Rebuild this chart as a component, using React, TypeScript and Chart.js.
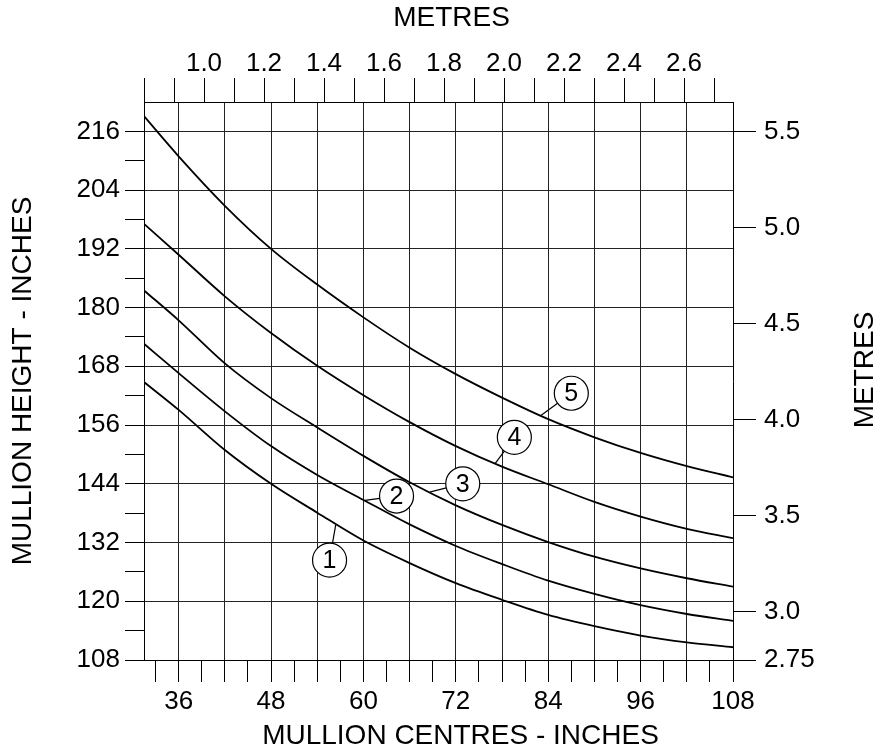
import React, { useEffect, useRef } from "react";
import { Chart, registerables } from "chart.js";

Chart.register(...registerables);

// ---- Data ----
const xInches = [31.5, 36, 42, 48, 54, 60, 66, 72, 78, 84, 90, 96, 102, 108];
const curve1 = [164.8, 159.1, 150.9, 144.0, 138.1, 132.4, 127.8, 123.7, 120.3, 117.2, 114.9, 113.0, 111.6, 110.6];
const curve2 = [172.6, 166.6, 158.8, 151.7, 145.8, 140.7, 135.7, 131.3, 127.6, 124.2, 121.5, 119.2, 117.4, 116.0];
const curve3 = [183.5, 177.4, 168.6, 161.5, 155.5, 149.7, 144.3, 139.6, 135.6, 132.1, 129.1, 126.7, 124.7, 123.0];
const curve4 = [197.1, 190.8, 182.3, 174.8, 168.1, 162.1, 156.6, 151.7, 147.5, 143.9, 140.3, 137.3, 134.8, 132.9];
const curve5 = [219.1, 210.9, 200.8, 192.0, 184.7, 178.0, 171.8, 166.4, 161.6, 157.2, 153.5, 150.3, 147.6, 145.3];

const curveNames = ["1", "2", "3", "4", "5"];
// circle label centres and leader end points (data units: inches)
const labelX = [55.6, 64.3, 72.9, 79.6, 87.0];
const labelY = [128.4, 141.5, 144.0, 153.5, 162.5];
const leaderX = [56.4, 60.2, 68.6, 77.1, 83.0];
const leaderY = [135.6, 140.6, 142.3, 148.1, 157.9];

// axes
const xMin = 31.5, xMax = 108;
const yMin = 108, yMax = 222;
const topMin = 0.8, topMax = 2.7633;
const rightMin = 2.75, rightMax = 5.653;

const bottomTicks = [33, 36, 39, 42, 45, 48, 51, 54, 57, 60, 63, 66, 69, 72, 75, 78, 81, 84, 87, 90, 93, 96, 99, 102, 105, 108];
const bottomLabels = [36, 48, 60, 72, 84, 96, 108];
const bottomGrid = [36, 42, 48, 54, 60, 66, 72, 78, 84, 90, 96, 102];
const leftTicks = [108, 114, 120, 126, 132, 138, 144, 150, 156, 162, 168, 174, 180, 186, 192, 198, 204, 210, 216];
const leftLabels = [108, 120, 132, 144, 156, 168, 180, 192, 204, 216];
const topTicks = [0.8, 0.9, 1.0, 1.1, 1.2, 1.3, 1.4, 1.5, 1.6, 1.7, 1.8, 1.9, 2.0, 2.1, 2.2, 2.3, 2.4, 2.5, 2.6, 2.7];
const topLabels = [1.0, 1.2, 1.4, 1.6, 1.8, 2.0, 2.2, 2.4, 2.6];
const rightTicks = [2.75, 3.0, 3.5, 4.0, 4.5, 5.0, 5.5];
const rightLabels = ["2.75", "3.0", "3.5", "4.0", "4.5", "5.0", "5.5"];

const titleBottom = "MULLION CENTRES - INCHES";
const titleTop = "METRES";
const titleLeft = "MULLION HEIGHT - INCHES";
const titleRight = "METRES";

const FONT = '"Liberation Sans", Arial, Helvetica, sans-serif';
const has = (arr: number[], v: number) => arr.some((a) => Math.abs(a - v) < 1e-6);

const annotatePlugin = {
  id: "annotate",
  afterDraw(chart: any) {
    const { ctx, scales, chartArea } = chart;
    const xs = scales.x;
    const ys = scales.y;
    const midX = (chartArea.left + chartArea.right) / 2;
    const midY = (chartArea.top + chartArea.bottom) / 2;
    ctx.save();
    ctx.font = `28px ${FONT}`;
    ctx.fillStyle = "#000";
    ctx.textAlign = "center";
    ctx.textBaseline = "middle";
    // bottom and top titles
    ctx.fillText(titleBottom, midX + 22, scales.x.bottom - 18.5);
    ctx.fillText(titleTop, midX + 13, scales.xTop.top + 18);
    // right axis title (reads bottom-to-top)
    ctx.save();
    ctx.translate(scales.yRight.right - 25, midY - 11);
    ctx.rotate(-Math.PI / 2);
    ctx.fillText(titleRight, 0, 0);
    ctx.restore();

    // numbered circle labels
    const r = 17;
    ctx.lineWidth = 1.2;
    ctx.strokeStyle = "#000";
    for (let i = 0; i < curveNames.length; i++) {
      const cx = xs.getPixelForValue(labelX[i]);
      const cy = ys.getPixelForValue(labelY[i]);
      const ex = xs.getPixelForValue(leaderX[i]);
      const ey = ys.getPixelForValue(leaderY[i]);
      const d = Math.hypot(ex - cx, ey - cy) || 1;
      ctx.beginPath();
      ctx.moveTo(cx + ((ex - cx) / d) * r, cy + ((ey - cy) / d) * r);
      ctx.lineTo(ex, ey);
      ctx.stroke();
      ctx.beginPath();
      ctx.arc(cx, cy, r, 0, Math.PI * 2);
      ctx.fillStyle = "#fff";
      ctx.fill();
      ctx.stroke();
      ctx.fillStyle = "#000";
      ctx.font = `25px ${FONT}`;
      ctx.fillText(curveNames[i], cx, cy + 1);
    }
    ctx.restore();
  },
};

export default function App() {
  const ref = useRef<HTMLCanvasElement | null>(null);
  useEffect(() => {
    document.body.style.margin = "0";
    const canvas = ref.current;
    if (!canvas) return;
    const curves = [curve1, curve2, curve3, curve4, curve5];
    const datasets = curves.map((c, i) => ({
      label: curveNames[i],
      data: xInches.map((x, j) => ({ x, y: c[j] })),
      borderColor: "#000",
      borderWidth: 1.8,
      pointRadius: 0,
      fill: false,
      cubicInterpolationMode: "monotone" as const,
      xAxisID: "x",
      yAxisID: "y",
    }));
    const tickFont = { family: FONT, size: 26 };
    const titleFont = { family: FONT, size: 28 };
    const chart = new Chart(canvas, {
      type: "line",
      data: { datasets },
      options: {
        animation: false,
        responsive: false,
        maintainAspectRatio: false,
        layout: { padding: 0 },
        plugins: { legend: { display: false }, tooltip: { enabled: false } },
        scales: {
          x: {
            type: "linear",
            position: "bottom",
            min: xMin,
            max: xMax,
            afterBuildTicks: (a: any) => { a.ticks = bottomTicks.map((v) => ({ value: v })); },
            afterFit: (a: any) => { a.height = 95; },
            ticks: {
              autoSkip: false,
              maxRotation: 0,
              padding: 4,
              color: "#000",
              font: tickFont,
              callback: (v: any) => (has(bottomLabels, Number(v)) ? String(v) : ""),
            },
            grid: {
              color: (c: any) => (c.tick && has(bottomGrid, c.tick.value) ? "#222" : "rgba(0,0,0,0)"),
              tickColor: "#000",
              tickLength: 22,
              lineWidth: 1,
            },
            border: { display: true, color: "#000", width: 1 },
          },
          xTop: {
            type: "linear",
            position: "top",
            min: topMin,
            max: topMax,
            afterBuildTicks: (a: any) => { a.ticks = topTicks.map((v) => ({ value: v })); },
            afterFit: (a: any) => { a.height = 102; },
            ticks: {
              autoSkip: false,
              maxRotation: 0,
              padding: -1,
              color: "#000",
              font: tickFont,
              callback: (v: any) => (has(topLabels, Number(v)) ? Number(v).toFixed(1) : ""),
            },
            grid: { drawOnChartArea: false, tickColor: "#000", tickLength: 24, lineWidth: 1 },
            border: { display: true, color: "#000", width: 1 },
          },
          y: {
            type: "linear",
            position: "left",
            min: yMin,
            max: yMax,
            afterBuildTicks: (a: any) => { a.ticks = leftTicks.map((v) => ({ value: v })); },
            afterFit: (a: any) => { a.width = 144; },
            ticks: {
              autoSkip: false,
              padding: 5,
              color: "#000",
              font: tickFont,
              callback: (v: any) => (has(leftLabels, Number(v)) ? String(v) : ""),
            },
            grid: {
              color: (c: any) => (c.tick && has(leftLabels, c.tick.value) ? "#222" : "rgba(0,0,0,0)"),
              tickColor: "#000",
              tickLength: 19,
              lineWidth: 1,
            },
            border: { display: true, color: "#000", width: 1 },
            title: { display: true, text: titleLeft, color: "#000", font: titleFont, padding: { top: 6, bottom: 0 } },
          },
          yRight: {
            type: "linear",
            position: "right",
            min: rightMin,
            max: rightMax,
            afterBuildTicks: (a: any) => { a.ticks = rightTicks.map((v) => ({ value: v })); },
            afterFit: (a: any) => { a.width = 890 - 733; },
            ticks: {
              autoSkip: false,
              padding: 8,
              color: "#000",
              font: tickFont,
              callback: (_v: any, i: number) => rightLabels[i],
            },
            grid: { drawOnChartArea: false, tickColor: "#000", tickLength: 23, lineWidth: 1 },
            border: { display: true, color: "#000", width: 1 },
          },
        },
      } as any,
      plugins: [annotatePlugin],
    });
    return () => chart.destroy();
  }, []);
  return (
    <div style={{ position: "absolute", left: 0, top: 0, width: 890, height: 755, background: "#fff" }}>
      <canvas ref={ref} width={890} height={755} style={{ display: "block", width: 890, height: 755 }} />
    </div>
  );
}
